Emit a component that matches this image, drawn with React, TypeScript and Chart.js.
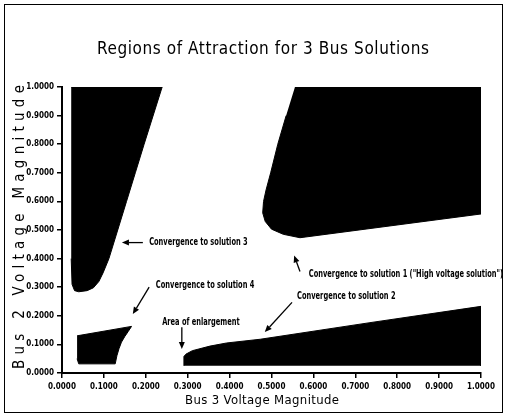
import React, { useEffect, useRef } from 'react';
import { Chart, registerables } from 'chart.js';

Chart.register(...registerables);

const TITLE = 'Regions of Attraction for 3 Bus Solutions';
const X_TITLE = 'Bus 3 Voltage Magnitude';
const Y_TITLE = 'Bus 2 Voltage Magnitude';

// Axis ranges / ticks
const X_MIN = 0;
const X_MAX = 1;
const Y_MIN = 0;
const Y_MAX = 1;
const TICK_STEP = 0.1;

// Region of attraction: solution 1 (upper right)
const sol1X = [0.556, 1.0, 1.0, 0.568, 0.528, 0.5, 0.485, 0.479, 0.481, 0.487, 0.498, 0.515, 0.535];
const sol1Y = [1.0, 1.0, 0.556, 0.473, 0.485, 0.503, 0.53, 0.56, 0.6, 0.64, 0.7, 0.8, 0.9];

// Region of attraction: solution 2 (lower right strip)
const sol2X = [0.291, 0.291, 0.296, 0.311, 0.353, 0.393, 0.473, 0.735, 1.0, 1.0];
const sol2Y = [0.025, 0.058, 0.066, 0.078, 0.094, 0.105, 0.118, 0.176, 0.233, 0.025];

// Region of attraction: solution 3 (upper left)
const sol3X = [0.022, 0.239, 0.196, 0.175, 0.154, 0.133, 0.112, 0.098, 0.088, 0.075, 0.06, 0.04, 0.03, 0.024, 0.022];
const sol3Y = [1.0, 1.0, 0.8, 0.7, 0.6, 0.5, 0.4, 0.35, 0.32, 0.298, 0.288, 0.284, 0.288, 0.31, 0.4];

// Region of attraction: solution 4 (lower left)
const sol4X = [0.036, 0.166, 0.158, 0.15, 0.142, 0.136, 0.131, 0.127, 0.04, 0.036];
const sol4Y = [0.13, 0.163, 0.145, 0.128, 0.108, 0.085, 0.06, 0.032, 0.032, 0.05];

// Annotations (text anchored at left / vertical middle, data coordinates)
const noteTexts = [
  'Convergence to solution 3',
  'Convergence to solution 4',
  'Area of enlargement',
  'Convergence to solution 2',
  'Convergence to solution 1 ("High voltage solution")',
];
const noteX = [0.208, 0.224, 0.239, 0.561, 0.589];
const noteY = [0.456, 0.307, 0.178, 0.268, 0.345];

// Arrows (tail -> head, data coordinates)
const arrowTailX = [0.193, 0.208, 0.286, 0.549, 0.568];
const arrowTailY = [0.456, 0.3, 0.16, 0.247, 0.355];
const arrowHeadX = [0.143, 0.169, 0.286, 0.484, 0.554];
const arrowHeadY = [0.456, 0.206, 0.084, 0.143, 0.411];

const toPoints = (xs: number[], ys: number[]) => xs.map((x, i) => ({ x, y: ys[i] }));

const FONT = "'DejaVu Sans Condensed', 'DejaVu Sans', sans-serif";

function drawSpaced(ctx: CanvasRenderingContext2D, text: string, cx: number, cy: number, target: number) {
  (ctx as any).letterSpacing = '0px';
  const natural = ctx.measureText(text).width;
  const n = text.length;
  const ls = n > 1 ? (target - natural) / (n - 1) : 0;
  (ctx as any).letterSpacing = ls + 'px';
  ctx.textAlign = 'left';
  ctx.fillText(text, cx - target / 2, cy);
  (ctx as any).letterSpacing = '0px';
}

const decorPlugin = {
  id: 'decor',
  afterDraw(chart: any) {
    const ctx: CanvasRenderingContext2D = chart.ctx;
    const xs = chart.scales.x;
    const ys = chart.scales.y;
    ctx.save();
    ctx.fillStyle = '#000';
    ctx.strokeStyle = '#000';

    // outer frame
    ctx.lineWidth = 1;
    ctx.strokeRect(4.5, 4.5, 498, 408);

    // title
    ctx.textBaseline = 'middle';
    ctx.font = `17px ${FONT}`;
    drawSpaced(ctx, TITLE, 263, 50, 332);

    // x title
    ctx.font = `13px ${FONT}`;
    drawSpaced(ctx, X_TITLE, 262, 401, 154);

    // y title
    ctx.save();
    ctx.translate(20, 227);
    ctx.rotate(-Math.PI / 2);
    ctx.font = `15px ${FONT}`;
    drawSpaced(ctx, Y_TITLE, 0, 0, 284);
    ctx.restore();

    // annotations (horizontally condensed)
    ctx.font = `bold 10px ${FONT}`;
    ctx.textAlign = 'left';
    ctx.textBaseline = 'middle';
    noteTexts.forEach((t, i) => {
      ctx.save();
      ctx.translate(xs.getPixelForValue(noteX[i]), ys.getPixelForValue(noteY[i]));
      ctx.scale(0.74, 1);
      ctx.fillText(t, 0, 0);
      ctx.restore();
    });

    // arrows
    ctx.lineWidth = 1.3;
    arrowTailX.forEach((_, i) => {
      const x1 = xs.getPixelForValue(arrowTailX[i]);
      const y1 = ys.getPixelForValue(arrowTailY[i]);
      const x2 = xs.getPixelForValue(arrowHeadX[i]);
      const y2 = ys.getPixelForValue(arrowHeadY[i]);
      const ang = Math.atan2(y2 - y1, x2 - x1);
      const len = 7;
      const hw = 3;
      const bx = x2 - len * Math.cos(ang);
      const by = y2 - len * Math.sin(ang);
      ctx.beginPath();
      ctx.moveTo(x1, y1);
      ctx.lineTo(bx, by);
      ctx.stroke();
      ctx.beginPath();
      ctx.moveTo(x2, y2);
      ctx.lineTo(bx + hw * Math.sin(ang), by - hw * Math.cos(ang));
      ctx.lineTo(bx - hw * Math.sin(ang), by + hw * Math.cos(ang));
      ctx.closePath();
      ctx.fill();
    });
    ctx.restore();
  },
};

function regionDataset(label: string, xs: number[], ys: number[]) {
  return {
    label,
    data: toPoints(xs, ys),
    showLine: true,
    fill: 'shape',
    backgroundColor: '#000',
    borderColor: '#000',
    borderWidth: 1,
    pointRadius: 0,
    tension: 0,
  };
}

export default function App() {
  const ref = useRef<HTMLCanvasElement | null>(null);

  useEffect(() => {
    if (!ref.current) return;
    const tickFont = { family: FONT, size: 8, weight: 'bold' as const };
    const chart = new Chart(ref.current, {
      type: 'scatter',
      data: {
        datasets: [
          regionDataset('Solution 1', sol1X, sol1Y),
          regionDataset('Solution 2', sol2X, sol2Y),
          regionDataset('Solution 3', sol3X, sol3Y),
          regionDataset('Solution 4', sol4X, sol4Y),
        ] as any,
      },
      options: {
        responsive: false,
        animation: false,
        layout: { padding: { top: 87, right: 25, left: 0, bottom: 0 } },
        plugins: {
          legend: { display: false },
          tooltip: { enabled: false },
          title: { display: false },
        },
        scales: {
          x: {
            type: 'linear',
            min: X_MIN,
            max: X_MAX,
            ticks: {
              stepSize: TICK_STEP,
              color: '#000',
              font: tickFont,
              padding: 4,
              maxRotation: 0,
              callback: (v: any) => Number(v).toFixed(4),
            },
            grid: { drawOnChartArea: false, drawTicks: true, tickLength: 5, color: '#000', lineWidth: 1.5 },
            border: { display: true, color: '#000', width: 2 },
            afterFit: (s: any) => {
              s.height = 44;
              s.paddingLeft = 0;
              s.paddingRight = 0;
            },
          },
          y: {
            type: 'linear',
            min: Y_MIN,
            max: Y_MAX,
            ticks: {
              stepSize: TICK_STEP,
              color: '#000',
              font: tickFont,
              padding: 3,
              callback: (v: any) => Number(v).toFixed(4),
            },
            grid: { drawOnChartArea: false, drawTicks: true, tickLength: 5, color: '#000', lineWidth: 1.5 },
            border: { display: true, color: '#000', width: 2 },
            afterFit: (s: any) => {
              s.width = 62;
              s.paddingTop = 0;
              s.paddingBottom = 0;
            },
          },
        },
      },
      plugins: [decorPlugin],
    });
    return () => chart.destroy();
  }, []);

  return (
    <div style={{ position: 'fixed', left: 0, top: 0, width: 506, height: 417, background: '#fff' }}>
      <canvas ref={ref} width={506} height={417} style={{ display: 'block' }} />
    </div>
  );
}
